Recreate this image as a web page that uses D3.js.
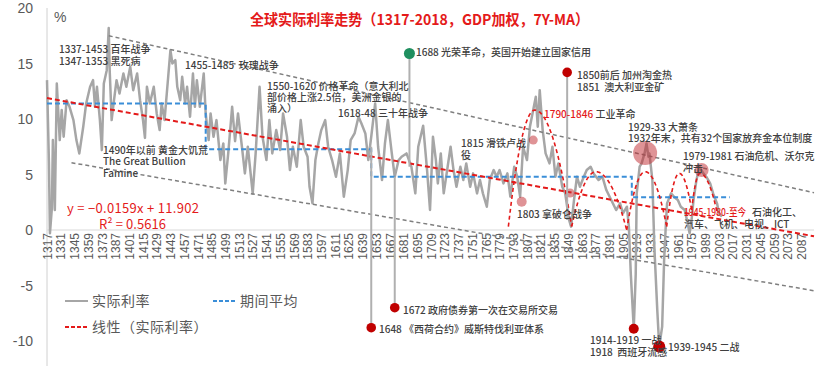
<!DOCTYPE html>
<html>
<head>
<meta charset="utf-8">
<script src="https://d3js.org/d3.v7.min.js"></script>
<style>
  html, body { margin: 0; padding: 0; background: #fff; }
  svg { display: block; }
  text { font-family: "Noto Sans CJK SC", "Liberation Sans", sans-serif; }
</style>
</head>
<body>
<svg width="832" height="366"></svg>
<script>
const years = [1317,1319,1320,1322,1323,1325,1327,1330,1332,1334,1337,1340,1344,1347,1350,1354,1357,1361,1364,1366,1368,1371,1373,1375,1378,1380,1381,1383,1385,1388,1391,1395,1398,1402,1405,1409,1412,1415,1417,1419,1422,1426,1429,1432,1434,1437,1441,1443,1445,1448,1450,1453,1455,1458,1460,1463,1466,1468,1470,1473,1477,1479,1482,1484,1487,1490,1494,1497,1499,1502,1506,1509,1512,1516,1519,1522,1527,1530,1534,1537,1541,1544,1547,1551,1555,1558,1562,1565,1568,1572,1576,1579,1583,1585,1588,1591,1594,1597,1601,1604,1608,1612,1616,1620,1624,1627,1631,1635,1638,1642,1645,1648,1652,1655,1659,1662,1665,1669,1672,1676,1679,1684,1689,1693,1696,1701,1705,1708,1711,1714,1716,1719,1722,1726,1729,1732,1735,1739,1742,1745,1749,1752,1756,1759,1762,1766,1769,1773,1776,1779,1783,1787,1790,1794,1797,1800,1803,1807,1810,1814,1816,1818,1820,1823,1826,1830,1833,1836,1839,1843,1846,1850,1852,1855,1858,1861,1865,1868,1872,1875,1880,1884,1888,1893,1898,1902,1905,1909,1911,1913,1916,1918,1919,1922,1924,1927,1929,1931,1932,1935,1937,1940,1942,1945,1947,1949,1950,1954,1957,1961,1964,1968,1971,1973,1975,1977,1980,1983,1987,1990,1994,1997,2001,2003,2006];
const rates = [13.5,6.0,-0.3,2.0,8.1,1.8,13.2,8.1,10.8,8.4,11.7,11.1,9.9,8.1,6.9,9.3,11.4,12.9,13.5,11.1,12.9,9.9,7.2,13.2,14.4,18.2,14.4,9.9,11.4,13.5,12.3,14.1,12.9,14.7,12.6,14.1,11.7,9.9,8.3,12.9,11.4,12.9,10.5,9.0,11.4,9.9,14.1,16.2,15.0,15.3,12.9,11.7,13.8,11.4,12.9,10.2,14.1,11.1,13.5,11.1,14.1,10.5,8.1,10.5,8.4,9.9,6.3,7.8,4.2,6.9,11.1,8.0,10.5,7.5,5.1,7.5,3.3,6.9,12.9,8.4,6.3,9.9,6.9,9.0,7.2,10.5,8.4,5.4,7.5,5.7,9.9,7.5,6.6,3.9,2.4,6.3,7.8,9.0,9.9,7.5,6.3,4.8,6.9,3.0,5.4,8.1,8.7,10.2,9.6,8.7,6.3,8.4,11.4,7.5,4.5,7.8,9.9,6.9,4.8,6.3,6.6,6.9,5.7,3.3,7.5,9.4,5.4,1.8,8.4,6.3,4.2,6.9,3.3,5.7,7.5,5.4,3.9,5.7,4.5,6.0,3.9,5.1,3.3,4.5,3.3,2.1,4.5,5.4,4.8,5.4,4.2,5.1,3.0,5.7,4.8,3.0,7.5,6.3,9.3,11.1,12.0,9.3,12.6,9.0,6.9,6.0,7.5,4.8,6.0,3.9,3.3,0.9,0.3,2.7,4.8,3.9,4.8,5.4,5.7,5.1,4.5,4.8,3.6,2.7,1.8,2.4,1.5,2.1,0.3,-4.0,-8.9,-4.0,3.3,5.7,6.0,6.9,7.8,6.6,6.9,4.5,-1.5,-7.2,-10.5,-8.7,-2.7,0.9,2.4,3.3,3.0,2.7,2.1,1.8,0.6,-0.3,0.9,2.7,4.5,5.7,5.1,4.8,4.2,3.3,2.4,1.5,1.2];

// period averages
const avgStart = [1317, 1479, 1648, 1914];
const avgEnd   = [1479, 1648, 1914, 2014];
const avgValue = [11.4, 7.27, 4.8, 2.94];

// linear fit  y = -0.0159x + 11.902  (x = index from 1317)
const fitSlope = -0.0159, fitIntercept = 11.902;

// channel lines [year0, value0, year1, value1]
const channelUpper = [1380, 17.5, 2100, 3.36];
const channelLower = [1342, 6.06, 2100, -5.47];

// cycles [startYear, startValue, peakYear, peakValue, endYear, endValue]
const cycles = [
  [1788, 0.3, 1815, 10.8, 1852.6, 0.3],
  [1852.6, 0.3, 1877.4, 5.25, 1908.8, 0.0],
  [1908.8, 0.0, 1927.6, 5.25, 1949.6, 0.3],
  [1949.6, 0.3, 1962.5, 5.1, 1975.1, 1.8],
  [1975.1, 1.8, 1983.6, 5.1, 2002, 1.2]
];

// pins [year, markerValue, lineToValue, kind]
const pins = [
  [1687, 15.9, 5.7, "green"],
  [1848, 14.2, 0.9, "red"],
  [1648, -8.8, 7.5, "red"],
  [1672, -7.0, 4.8, "red"]
];
const eventDots = [[1916, -8.9], [1942, -10.5]];
// highlighted points [year, value, size]
const highlights = [[1813.4, 8.1, 4.5], [1801.6, 2.55, 5], [1851, 3.33, 4.5], [1927.6, 6.94, 12], [1985.3, 5.4, 7]];

const yTicks = [-10, -5, 0, 5, 10, 15, 20];
const xTickYears = [1317,1331,1345,1359,1373,1387,1401,1415,1429,1443,1457,1471,1485,1499,1513,1527,1541,1555,1569,1583,1597,1611,1625,1639,1653,1667,1681,1695,1709,1723,1737,1751,1765,1779,1793,1807,1821,1835,1849,1863,1877,1891,1905,1919,1933,1947,1961,1975,1989,2003,2017,2031,2045,2059,2073,2087];

const svg = d3.select("svg");
const x = d3.scaleLinear().domain([1317, 2100]).range([47, 814]);
const y = d3.scaleLinear().domain([-12, 20]).range([363.2, 8]);

const RED = "#e41a1a", GRAY = "#a6a6a6", BLUE = "#3a8ed8", DARK = "#404040";

// y axis
svg.append("line").attr("x1", 47).attr("x2", 47).attr("y1", 8).attr("y2", 366)
  .attr("stroke", "#d0d0d0").attr("stroke-width", 1);
svg.append("g").selectAll("text").data(yTicks).enter().append("text")
  .attr("x", 33).attr("y", d => y(d) + 5).attr("text-anchor", "end")
  .attr("font-size", 14).attr("fill", "#595959")
  .style("font-family", "Liberation Sans, Arial, sans-serif")
  .text(d => d);
svg.append("text").attr("x", 54).attr("y", 22).attr("font-size", 14).attr("fill", "#595959")
  .style("font-family", "Liberation Sans, Arial, sans-serif").text("%");

// zero line + x labels
svg.append("line").attr("x1", x(1317)).attr("x2", x(2100)).attr("y1", y(0)).attr("y2", y(0))
  .attr("stroke", "#d9d9d9").attr("stroke-width", 1);
const xAxis = svg.append("g").attr("transform", `translate(0,${y(0)})`)
  .call(d3.axisBottom(x).tickValues(xTickYears).tickSize(0).tickFormat(d3.format("d")));
xAxis.select(".domain").remove();
xAxis.selectAll("text")
  .attr("transform", "rotate(-90)").attr("text-anchor", "end")
  .attr("x", -3).attr("y", 0).attr("dy", "0.35em")
  .attr("font-size", 12).attr("fill", "#595959")
  .style("font-family", "Liberation Sans, Arial, sans-serif");

// data line
const series = years.map((yr, i) => [yr, rates[i]]);
svg.append("path").datum(series)
  .attr("fill", "none").attr("stroke", GRAY).attr("stroke-width", 2.5).attr("stroke-linejoin", "round")
  .attr("d", d3.line().x(d => x(d[0])).y(d => y(d[1])));

// channel lines
[channelUpper, channelLower].forEach(c => {
  svg.append("line").attr("x1", x(c[0])).attr("y1", y(c[1])).attr("x2", x(c[2])).attr("y2", y(c[3]))
    .attr("stroke", "#7f7f7f").attr("stroke-width", 1.5).attr("stroke-dasharray", "4,3");
});

// period average step line
const stepPts = [];
avgStart.forEach((s, i) => { stepPts.push([s, avgValue[i]]); stepPts.push([avgEnd[i], avgValue[i]]); });
svg.append("path").datum(stepPts)
  .attr("fill", "none").attr("stroke", BLUE).attr("stroke-width", 2).attr("stroke-dasharray", "5,3")
  .attr("d", d3.line().x(d => x(d[0])).y(d => y(d[1])));

// linear fit
const fit = [1317, 2100].map(yr => [yr, fitSlope * (yr - 1316) + fitIntercept]);
svg.append("path").datum(fit)
  .attr("fill", "none").attr("stroke", RED).attr("stroke-width", 2).attr("stroke-dasharray", "5,3")
  .attr("d", d3.line().x(d => x(d[0])).y(d => y(d[1])));

// cycle arcs
cycles.forEach(c => {
  const [s, sv, p, pv, e, ev] = c;
  const pts = d3.range(s, e + 0.01, 0.5).map(yr => {
    const u = yr <= p ? (p - yr) / (p - s) : (yr - p) / (e - p);
    const base = yr <= p ? sv : ev;
    return [yr, pv - (pv - base) * u * u];
  });
  svg.append("path").datum(pts)
    .attr("fill", "none").attr("stroke", RED).attr("stroke-width", 1.6).attr("stroke-dasharray", "4,3")
    .attr("d", d3.line().x(d => x(d[0])).y(d => y(d[1])));
});

// highlights
svg.append("g").selectAll("circle").data(highlights).enter().append("circle")
  .attr("cx", d => x(d[0])).attr("cy", d => y(d[1])).attr("r", d => d[2])
  .attr("fill", "#c0282d").attr("fill-opacity", 0.5);

// pins
pins.forEach(p => {
  svg.append("line").attr("x1", x(p[0])).attr("x2", x(p[0])).attr("y1", y(p[1])).attr("y2", y(p[2]))
    .attr("stroke", "#b0b0b0").attr("stroke-width", 2);
  svg.append("circle").attr("cx", x(p[0])).attr("cy", y(p[1])).attr("r", p[3] === "green" ? 5.5 : 4.8)
    .attr("fill", p[3] === "green" ? "#1f8f5f" : "#c00000");
});
eventDots.forEach((d, i) => {
  svg.append("circle").attr("cx", x(d[0])).attr("cy", y(d[1])).attr("r", i ? 6 : 5).attr("fill", "#c00000");
});

// title
svg.append("text").attr("x", 250).attr("y", 25)
  .attr("font-size", 15).attr("font-weight", "bold").attr("fill", RED)
  .attr("textLength", 339).attr("lengthAdjust", "spacingAndGlyphs")
  .text("全球实际利率走势（1317-2018，GDP加权，7Y-MA）");

// annotations (layout)
const notes = [
  ["1337-1453 百年战争", 59, 53],
  ["1347-1353 黑死病", 59, 65],
  ["1455-1485  玫瑰战争", 185, 69],
  ["1550-1620 价格革命（意大利北", 267, 90],
  ["部价格上涨2.5倍，美洲金银的", 267, 101],
  ["涌入）", 267, 112],
  ["1618-48 三十年战争", 338, 117],
  ["1688 光荣革命，英国开始建立国家信用", 416, 56],
  ["1850前后 加州淘金热", 577, 79],
  ["1851  澳大利亚金矿", 577, 91],
  ["1929-33 大萧条", 628, 131],
  ["1932年末，共有32个国家放弃金本位制度", 628, 142],
  ["1979-1981 石油危机、沃尔克", 683, 160],
  ["冲击", 683, 172],
  ["1815 滑铁卢战", 461, 147],
  ["役", 461, 159],
  ["1803 拿破仑战争", 517, 218],
  ["石油化工、", 752, 216],
  ["汽车、飞机、电视、ICT", 684, 228],
  ["1490年以前 黄金大饥荒", 103, 154],
  ["The Great Bullion", 103, 165],
  ["Famine", 103, 177],
  ["1672 政府债券第一次在交易所交易", 403, 314],
  ["1648 《西荷合约》威斯特伐利亚体系", 379, 333],
  ["1914-1919 一战", 590, 344],
  ["1918  西班牙流感", 590, 356],
  ["1939-1945 二战", 668, 351]
];
svg.append("g").selectAll("text").data(notes).enter().append("text")
  .attr("x", d => d[1]).attr("y", d => d[2]).attr("font-size", 10).attr("fill", DARK)
  .attr("font-weight", 500).style("white-space", "pre").text(d => d[0]);

const ind = svg.append("text").attr("x", 544).attr("y", 118).attr("font-size", 10).attr("font-weight", 500);
ind.append("tspan").attr("fill", RED).text("1790-1846");
ind.append("tspan").attr("fill", DARK).text(" 工业革命");
svg.append("text").attr("x", 684).attr("y", 216).attr("font-size", 10).attr("font-weight", 500)
  .attr("fill", RED).attr("textLength", 62).attr("lengthAdjust", "spacingAndGlyphs").text("1945-1980-至今");

// regression equation
svg.append("text").attr("x", 67).attr("y", 213).attr("font-size", 13).attr("fill", RED)
  .attr("textLength", 132).text("y = −0.0159x + 11.902");
svg.append("text").attr("x", 99).attr("y", 229).attr("font-size", 13).attr("fill", RED)
  .attr("textLength", 67).text("R² = 0.5616");

// legend
const legend = [
  ["实际利率", 65, 301, GRAY, null],
  ["期间平均", 213, 301, BLUE, "4,2"],
  ["线性（实际利率）", 65, 327, RED, "4,2"]
];
legend.forEach(l => {
  svg.append("line").attr("x1", l[1]).attr("x2", l[1] + 23).attr("y1", l[2]).attr("y2", l[2])
    .attr("stroke", l[3]).attr("stroke-width", 2).attr("stroke-dasharray", l[4]);
  svg.append("text").attr("x", l[1] + 27).attr("y", l[2] + 5).attr("font-size", 14)
    .attr("fill", "#595959").attr("letter-spacing", 0.5).text(l[0]);
});
</script>
</body>
</html>
